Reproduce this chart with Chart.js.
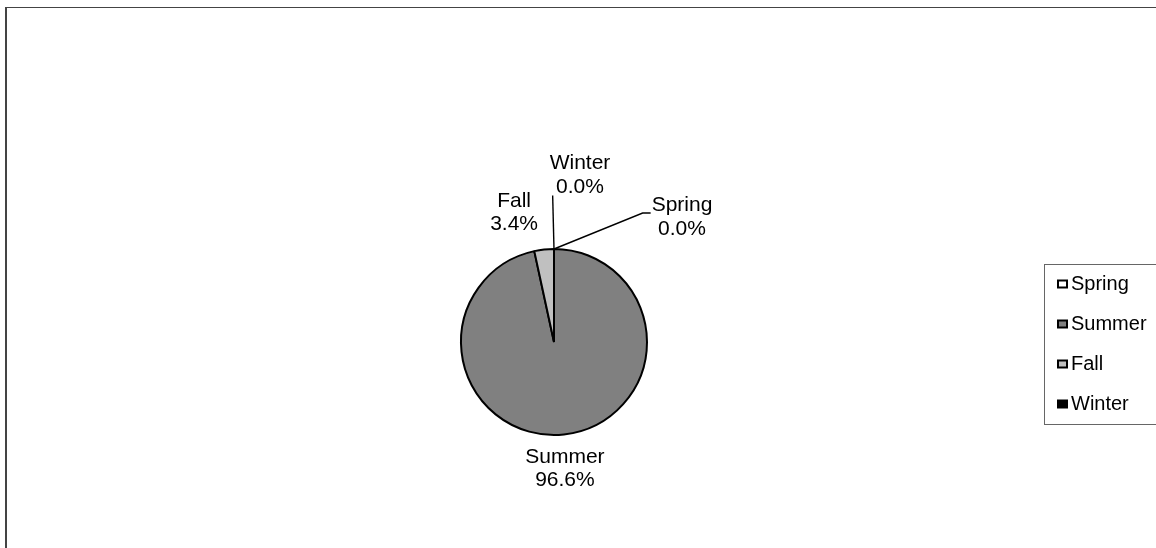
<!DOCTYPE html>
<html>
<head>
<meta charset="utf-8">
<script src="https://cdn.jsdelivr.net/npm/chart.js@4.4.1/dist/chart.umd.min.js"></script>
<style>
html, body { margin: 0; padding: 0; background: #fff; }
canvas { display: block; }
</style>
</head>
<body>
<canvas id="season-chart" width="1156" height="548"></canvas>
<script>
const seasons = ['Spring', 'Summer', 'Fall', 'Winter'];
const shares = [0.0, 96.6, 3.4, 0.0];
const sliceColors = ['#ffffff', '#808080', '#c0c0c0', '#000000'];
// label centre, relative to the slice edge at its middle angle
const labelOffsets = [[128, -32], [1, 34], [-30, -37], [26, -74]];
const leaderLines = [true, false, false, true];

const FONT = '"Liberation Sans", Arial, sans-serif';

const framePlugin = {
    id: 'frame',
    beforeDraw: function (chart) {
        const ctx = chart.ctx;
        ctx.save();
        ctx.fillStyle = '#444';
        ctx.fillRect(5, 7, 2, chart.height);
        ctx.fillRect(5, 7, chart.width, 1);
        ctx.restore();
    }
};

const labelPlugin = {
    id: 'sliceLabels',
    afterDatasetsDraw: function (chart) {
        const ctx = chart.ctx;
        const meta = chart.getDatasetMeta(0);
        const lh = 23.5;
        ctx.save();
        ctx.font = '21px ' + FONT;
        ctx.textAlign = 'center';
        ctx.textBaseline = 'middle';
        meta.data.forEach(function (arc, i) {
            const p = arc.getProps(['x', 'y', 'startAngle', 'endAngle', 'outerRadius'], true);
            const mid = (p.startAngle + p.endAngle) / 2;
            const ax = p.x + Math.cos(mid) * p.outerRadius;
            const ay = p.y + Math.sin(mid) * p.outerRadius;
            const cx = ax + labelOffsets[i][0];
            const cy = ay + labelOffsets[i][1];
            const lines = [seasons[i], shares[i].toFixed(1) + '%'];
            const w = Math.max.apply(null, lines.map(function (t) { return ctx.measureText(t).width; }));
            const left = cx - w / 2;
            const right = cx + w / 2;
            const bottom = cy + lh;

            ctx.fillStyle = '#000';
            lines.forEach(function (t, k) {
                ctx.fillText(t, cx, cy + (k - 0.5) * lh);
            });

            if (leaderLines[i]) {
                ctx.beginPath();
                ctx.strokeStyle = '#000';
                ctx.lineWidth = 1.4;
                ctx.moveTo(ax, ay);
                if (left > ax + 20) {
                    const ty = cy - 4;
                    ctx.lineTo(left - 9, ty);
                    ctx.lineTo(left - 1, ty);
                } else if (right < ax - 20) {
                    const ty = cy - 4;
                    ctx.lineTo(right + 9, ty);
                    ctx.lineTo(right + 1, ty);
                } else {
                    ctx.lineTo(cx > ax ? left + 3 : right - 3, bottom - 3);
                }
                ctx.stroke();
            }
        });
        ctx.restore();
    }
};

const legendPlugin = {
    id: 'boxLegend',
    afterDraw: function (chart) {
        const ctx = chart.ctx;
        const boxLeft = 1044.5, boxTop = 264.5, boxBottom = 424.5;
        ctx.save();
        ctx.strokeStyle = '#666';
        ctx.lineWidth = 1;
        ctx.strokeRect(boxLeft, boxTop, chart.width + 10 - boxLeft, boxBottom - boxTop);
        ctx.font = '20px ' + FONT;
        ctx.textBaseline = 'middle';
        ctx.textAlign = 'left';
        chart.data.labels.forEach(function (name, i) {
            const y = boxTop + 19.5 + i * 40;
            ctx.fillStyle = chart.data.datasets[0].backgroundColor[i];
            ctx.fillRect(1058, y - 3.5, 9, 7);
            ctx.strokeStyle = '#000';
            ctx.lineWidth = 2;
            ctx.strokeRect(1058, y - 3.5, 9, 7);
            ctx.fillStyle = '#000';
            ctx.fillText(name, 1071, y);
        });
        ctx.restore();
    }
};

new Chart(document.getElementById('season-chart'), {
    type: 'pie',
    data: {
        labels: seasons,
        datasets: [{
            data: shares,
            backgroundColor: sliceColors,
            borderColor: '#000',
            borderWidth: 2
        }]
    },
    options: {
        responsive: false,
        animation: false,
        layout: {
            padding: { left: 460, right: 508, top: 248, bottom: 112 }
        },
        plugins: {
            legend: { display: false },
            tooltip: { enabled: false }
        }
    },
    plugins: [framePlugin, labelPlugin, legendPlugin]
});
</script>
</body>
</html>
